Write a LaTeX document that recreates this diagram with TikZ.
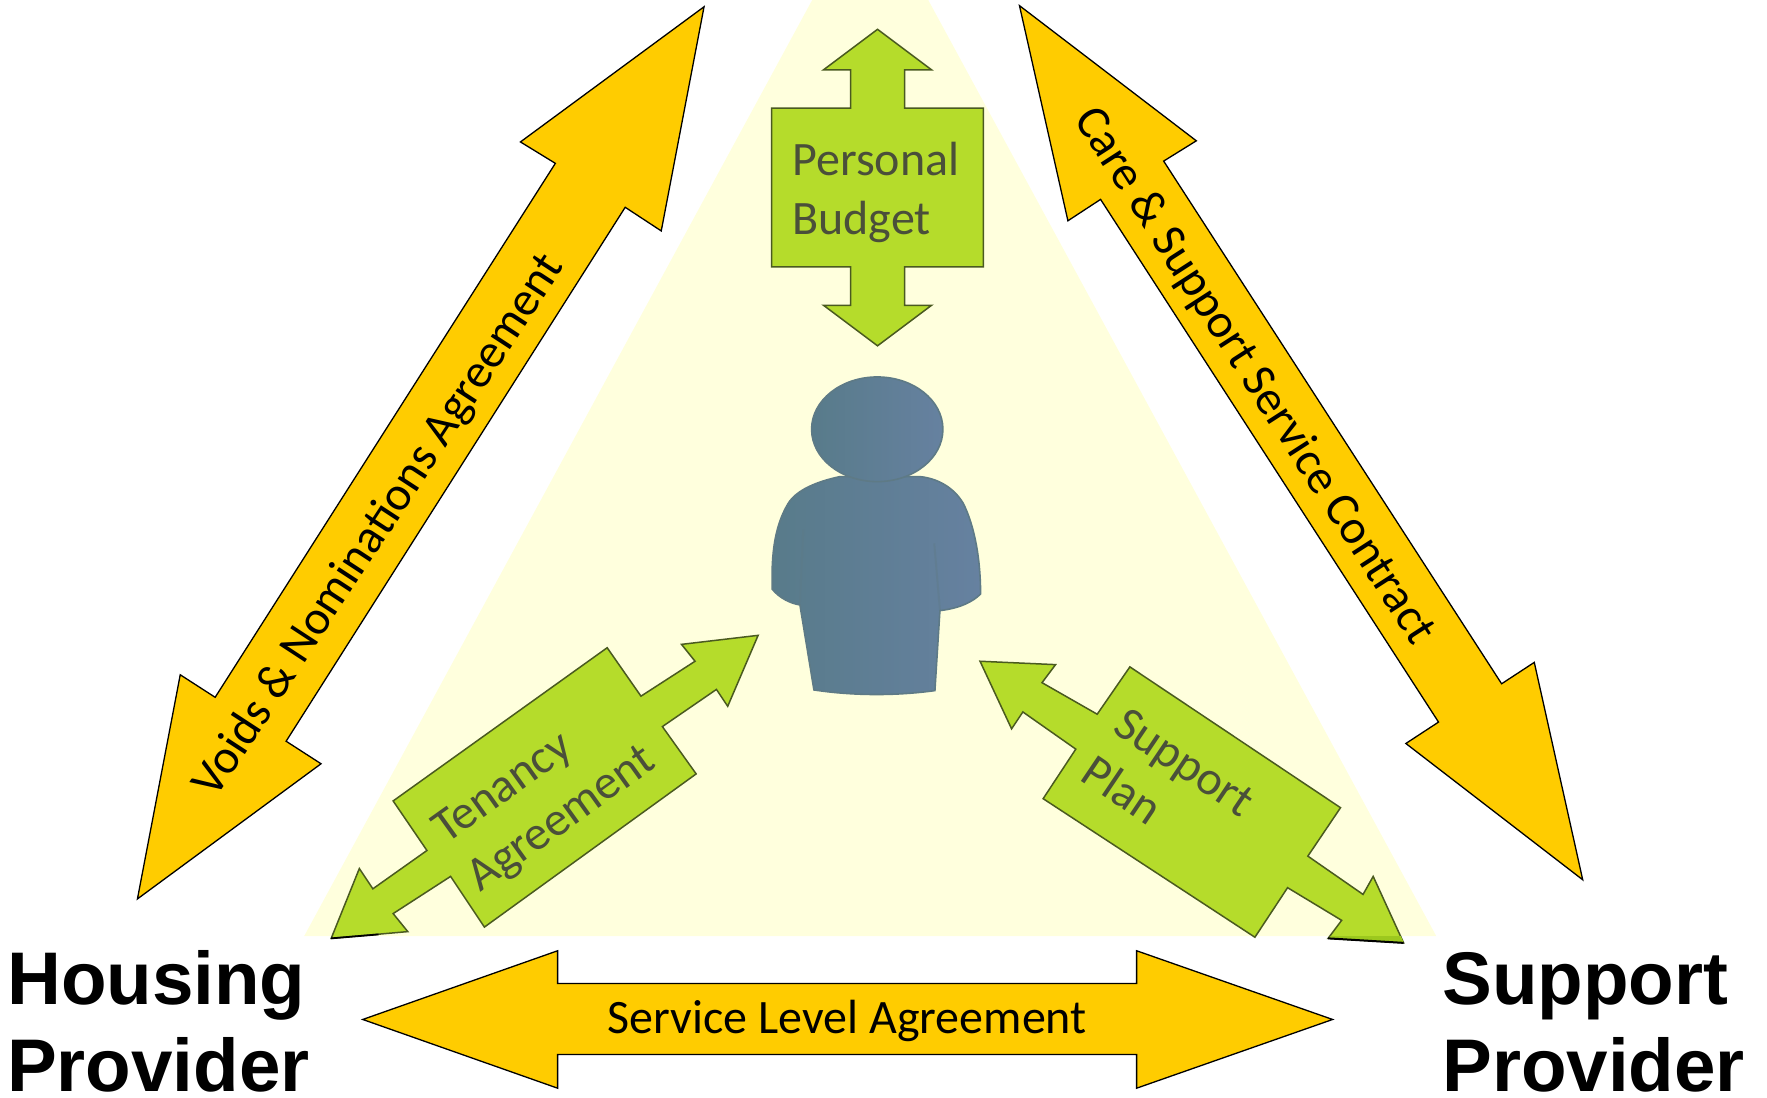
\documentclass[tikz,border=0pt]{standalone}
\usepackage{fontspec}
\setmainfont{Carlito}
\newfontfamily\headfont{Liberation Sans}[BoldFont={Liberation Sans Bold}]
\definecolor{bgtri}{HTML}{FFFFDD}
\definecolor{gold}{HTML}{FFCC00}
\definecolor{leaf}{HTML}{B5DC2B}
\definecolor{leafdark}{HTML}{9CC81E}
\definecolor{leafedge}{HTML}{4A5A20}
\definecolor{greytext}{HTML}{4A4F3A}
\definecolor{personA}{HTML}{587B8A}
\definecolor{personB}{HTML}{6681A0}
\definecolor{personE}{HTML}{5E7A86}
\tikzset{
  goldarrow/.style={fill=gold,draw=black,line width=0.65pt,line join=miter},
  leafarrow/.style={fill=leaf,draw=leafedge,line width=0.75pt,line join=miter},
  goldlabel/.style={inner sep=0pt,font=\fontsize{24}{28}\selectfont,text=black},
  leaflabel/.style={inner sep=0pt,align=left,font=\fontsize{24}{29.5}\selectfont,text=greytext},
  partylabel/.style={inner sep=0pt,anchor=base west,font=\headfont\bfseries\fontsize{37.3}{40}\selectfont,text=black}
}
\begin{document}
\begin{tikzpicture}[x=0.5633pt,y=-0.5633pt]
\useasboundingbox (0,0) rectangle (1568.6,974.7);
% background
\fill[bgtri] (721,0) -- (824,0) -- (1275,831) -- (270,831) -- cycle;
% gold arrows
\draw[goldarrow] (625,6) -- (587,205) -- (555,184) -- (254,658) -- (285,678) -- (122,798) -- (160,599) -- (191,619) -- (493,145) -- (462,126) -- cycle;
\draw[goldarrow] (905,5) -- (1062,125) -- (1033,143) -- (1333,607) -- (1362,588) -- (1405,781) -- (1248,660) -- (1277,641) -- (977,177) -- (948,196) -- cycle;
\draw[goldarrow] (322,905) -- (495,844) -- (495,873) -- (1009,873) -- (1009,844) -- (1183,905) -- (1009,966) -- (1009,936) -- (495,936) -- (495,966) -- cycle;
% green arrows
\draw[leafarrow] (779,26) -- (827,62) -- (803,62) -- (803,96) -- (873,96) -- (873,237) -- (803,237) -- (803,271) -- (827,271) -- (779,307) -- (731,271) -- (755,271) -- (755,237) -- (685,237) -- (685,96) -- (755,96) -- (755,62) -- (731,62) -- cycle;
\draw[leafarrow] (673,564) -- (605,572) -- (617,587) -- (569,618) -- (539,575) -- (349,711) -- (379,755) -- (331,789) -- (319,771) -- (294,833) -- (362,827) -- (349,811) -- (400,778) -- (430,823) -- (618,687) -- (588,645) -- (636,612) -- (646,627) -- cycle;
\draw[black,line width=0.9pt] (294,833) -- (336,829.5);
\draw[leafarrow] (870,587) -- (937,590) -- (925,606) -- (974,634) -- (1003,592) -- (1190,717) -- (1161,760) -- (1210,794) -- (1219,778) -- (1246,837) -- (1179,833) -- (1191,817) -- (1143,788) -- (1114,832) -- (926,709) -- (955,665) -- (908,632) -- (898,647) -- cycle;
\fill[leafdark] (1181.5,831) -- (1243.5,831) -- (1246,836.5) -- (1179.5,832.7) -- cycle;
\draw[black,line width=1pt] (1179,833) -- (1246,837);
% person
\begin{scope}[x=0.5pt/3,y=-0.5pt/3,shift={(370pt,-170pt)}]
\draw[personE,line width=0.8pt,left color=personA,right color=personB]
  (300,410) .. controls (230,425) and (170,450) .. (145,490)
  .. controls (115,540) and (100,600) .. (97,680)
  -- (97,748) .. controls (120,775) and (150,790) .. (180,795)
  -- (222,1050) .. controls (340,1068) and (470,1068) .. (585,1052)
  -- (600,812) .. controls (660,805) and (700,785) .. (722,762)
  .. controls (722,660) and (705,560) .. (670,490)
  .. controls (640,440) and (590,415) .. (540,410) -- cycle;
\draw[personE,line width=0.8pt,left color=personA,right color=personB]
  (412,268) ellipse [x radius=197,y radius=157];
\draw[personE,opacity=0.4,line width=1pt] (190,570) -- (180,790);
\draw[personE,opacity=0.4,line width=1pt] (583,610) -- (600,810);
\end{scope}
% labels
\node[goldlabel,rotate=56.8] (voids) at (337,467) {Voids \& Nominations Agreement};
\node[goldlabel,rotate=-57.2] (care) at (1113,334) {Care \& Support Service Contract};
\node[goldlabel] (sla) at (752,906) {Service Level Agreement};
\node[leaflabel,anchor=north west] (budget) at (703,125.5) {Personal\\Budget};
\node[leaflabel,rotate=35.6] (tenancy) at (484,707) {Tenancy\\Agreement};
\node[leaflabel,rotate=-34] (plan) at (1037,698) {Support\\Plan};
\node[partylabel] (housingA) at (6,892) {Housing};
\node[partylabel] (housingB) at (6,969) {Provider};
\node[partylabel] (supportA) at (1280,892) {Support};
\node[partylabel] (supportB) at (1280,969) {Provider};
\end{tikzpicture}
\end{document}
